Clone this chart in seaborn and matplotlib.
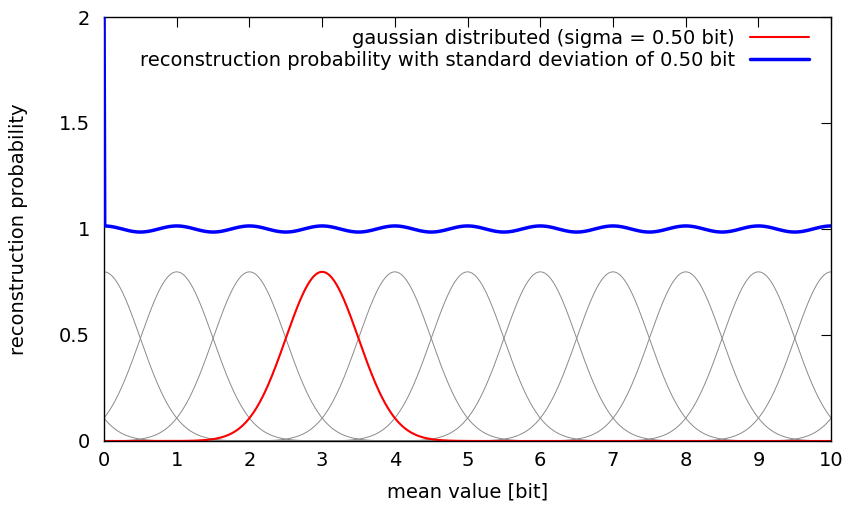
import numpy as np
import pandas as pd
import matplotlib
matplotlib.use("Agg")
import matplotlib.pyplot as plt
import seaborn as sns

# chart data
centers = [-1, 0, 1, 2, 3, 4, 5, 6, 7, 8, 9, 10, 11]
highlight_center = 3
sigma = 0.50            # bit, as given in the legend
spike_value = 2.1       # value drawn at x = 0 for the summed curve (goes off the top)
x_range = [0, 10]
x_ticks = [0, 1, 2, 3, 4, 5, 6, 7, 8, 9, 10]
y_ticks = [0, 0.5, 1, 1.5, 2]
y_ticklabels = ["0", "0.5", "1", "1.5", "2"]
label_gauss = "gaussian distributed (sigma = 0.50 bit)"
label_sum = "reconstruction probability with standard deviation of 0.50 bit"

x = np.linspace(x_range[0], x_range[1], 1001)


def gauss(xv, mu):
    return np.exp(-0.5 * ((xv - mu) / sigma) ** 2) / (sigma * np.sqrt(2 * np.pi))


curves = pd.DataFrame({"x": x})
for c in centers:
    curves["g%d" % c] = gauss(x, c)
total = sum(gauss(x, c) for c in range(-5, 16))
total[0] = spike_value
curves["total"] = total

sns.set_style("white")
plt.rcParams["font.family"] = ["DejaVu Sans"]
plt.rcParams["text.color"] = "black"
plt.rcParams["axes.labelcolor"] = "black"
fig, ax = plt.subplots(figsize=(8.49, 5.09), dpi=100)
fig.subplots_adjust(left=0.1225, right=0.979, top=0.9666, bottom=0.1336)

for c in centers:
    sns.lineplot(data=curves, x="x", y="g%d" % c, ax=ax, color="#8a8a8a",
                 linewidth=0.7, zorder=1)
sns.lineplot(data=curves, x="x", y="g%d" % highlight_center, ax=ax, color="red",
             linewidth=1.5, zorder=2, label=label_gauss)
sns.lineplot(data=curves, x="x", y="total", ax=ax, color="blue",
             linewidth=2.5, zorder=5, label=label_sum)

ax.set_xlim(x_range)
ax.set_ylim(0, 2)
ax.set_xticks(x_ticks)
ax.set_yticks(y_ticks)
ax.set_yticklabels(y_ticklabels)
ax.set_xlabel("mean value [bit]", fontsize=14, labelpad=9)
ax.set_ylabel("reconstruction probability", fontsize=14, labelpad=0)
ax.yaxis.set_label_coords(-0.104, 0.5)
ax.tick_params(direction="in", length=7, width=0.8, labelsize=14, colors="black",
               top=True, right=True, pad=7)
ax.tick_params(axis="y", pad=10)
for s in ax.spines.values():
    s.set_color("black")
    s.set_linewidth(1.0)
    s.set_zorder(4)

ax.legend(loc="upper right", frameon=False, markerfirst=False, fontsize=14,
          handlelength=3.0, handletextpad=0.8, borderaxespad=0.2,
          bbox_to_anchor=(0.985, 1.0), labelspacing=0.15)

plt.savefig("out.png", dpi=100)
